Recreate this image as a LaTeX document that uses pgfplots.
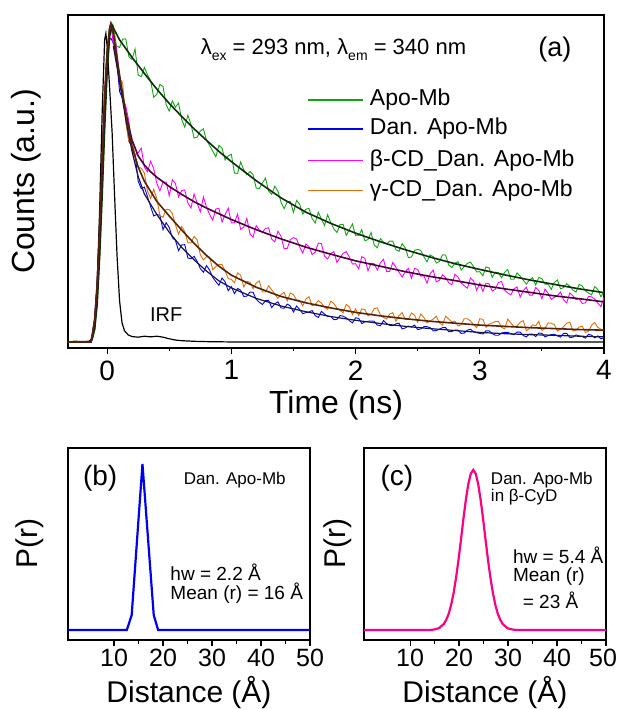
\documentclass[border=0pt]{standalone}
\usepackage{fontspec}
\setmainfont{Liberation Sans}
\usepackage{pgfplots}
\pgfplotsset{compat=1.18}
\definecolor{apogreen}{RGB}{20,165,20}
\definecolor{danblue}{RGB}{0,0,240}
\definecolor{betamag}{RGB}{255,0,255}
\definecolor{gamorange}{RGB}{225,110,10}
\definecolor{greenfit}{RGB}{15,45,15}
\definecolor{magfit}{RGB}{75,0,55}
\definecolor{orfit}{RGB}{85,35,10}
\definecolor{bluefit}{RGB}{25,20,70}
\definecolor{pinkc}{RGB}{250,0,130}
\newcommand\fs[1]{\fontsize{#1}{#1}\selectfont}
\newcommand\sub[1]{\raisebox{-6pt}{\fs{14}#1}}
\pgfplotsset{myax/.style={scale only axis, anchor=south west,
  axis line style={line width=1.4pt},
  tick style={line width=1.1pt, black},
  tick align=outside, xtick pos=left, ytick=\empty,
  major tick length=6pt, minor tick length=3.5pt,
  /pgf/number format/assume math mode=true,
  minor x tick num=1}}
\begin{document}
\begin{tikzpicture}
\useasboundingbox (0,0) rectangle (618pt,709pt);
% ---------------- panel (a)
\begin{axis}[myax, at={(68pt,361pt)}, width=536pt, height=333pt,
  xmin=-0.315, xmax=4, ymin=-0.019, ymax=1.028,
  xtick={0,1,2,3,4},
  ticklabel style={font=\fs{28}},
  xticklabel style={yshift=-3pt},
  xlabel={Time (ns)}, ylabel={Counts (a.u.)},
  label style={font=\fs{32}},
  xlabel style={at={(axis description cs:0.5,-0.171)}, anchor=center},
  ylabel style={at={(axis description cs:-0.078,0.5)}, anchor=center}]
% green data
\addplot[color=apogreen, line width=0.9pt] coordinates {
(-0.32,0)(-0.26,0.003)(-0.2,0.001)(-0.15,0.003)(-0.13,0.004)(-0.12,0.01)(-0.10,0.04)(-0.08,0.12)(-0.06,0.27)(-0.04,0.46)(-0.02,0.67)(0,0.85)(0.02,0.96)(0.04,1.0)
(0.05,0.995)(0.075,0.931)(0.10,0.926)(0.125,0.952)(0.15,0.953)(0.175,0.897)(0.20,0.888)(0.225,0.921)(0.25,0.839)(0.275,0.834)(0.30,0.863)(0.325,0.840)(0.35,0.822)(0.375,0.769)(0.40,0.779)(0.425,0.810)(0.45,0.803)(0.475,0.746)(0.50,0.726)(0.525,0.758)(0.55,0.738)(0.575,0.751)(0.60,0.700)(0.625,0.675)(0.65,0.713)(0.675,0.684)(0.70,0.641)(0.725,0.644)(0.75,0.663)(0.775,0.670)(0.80,0.634)(0.825,0.618)(0.85,0.600)(0.875,0.582)(0.90,0.618)(0.925,0.610)(0.95,0.572)(0.975,0.585)(1.00,0.590)(1.025,0.531)(1.05,0.530)(1.075,0.566)(1.10,0.541)(1.125,0.526)(1.15,0.536)(1.175,0.526)(1.20,0.484)(1.225,0.482)(1.25,0.500)(1.275,0.515)(1.30,0.474)(1.325,0.464)(1.35,0.490)(1.375,0.474)(1.40,0.439)(1.425,0.419)(1.45,0.441)(1.475,0.441)(1.50,0.407)(1.525,0.445)(1.55,0.433)(1.575,0.402)(1.60,0.417)(1.625,0.420)(1.65,0.388)(1.675,0.374)(1.70,0.408)(1.725,0.386)(1.75,0.366)(1.775,0.400)(1.80,0.375)(1.825,0.356)(1.85,0.344)(1.875,0.369)(1.90,0.370)(1.925,0.335)(1.95,0.353)(1.975,0.371)(2.00,0.334)(2.025,0.334)(2.05,0.353)(2.075,0.318)(2.10,0.322)(2.125,0.344)(2.15,0.305)(2.175,0.296)(2.20,0.325)(2.225,0.314)(2.25,0.308)(2.275,0.317)(2.30,0.317)(2.325,0.290)(2.35,0.285)(2.375,0.309)(2.40,0.296)(2.425,0.265)(2.45,0.267)(2.475,0.288)(2.50,0.291)(2.525,0.288)(2.55,0.268)(2.575,0.252)(2.60,0.274)(2.625,0.268)(2.65,0.248)(2.675,0.253)(2.70,0.274)(2.725,0.273)(2.75,0.242)(2.775,0.234)(2.80,0.248)(2.825,0.252)(2.85,0.226)(2.875,0.237)(2.90,0.247)(2.925,0.251)(2.95,0.237)(2.975,0.220)(3.00,0.221)(3.025,0.208)(3.05,0.236)(3.075,0.233)(3.10,0.203)(3.125,0.219)(3.15,0.218)(3.175,0.202)(3.20,0.219)(3.225,0.228)(3.25,0.197)(3.275,0.197)(3.30,0.217)(3.325,0.207)(3.35,0.194)(3.375,0.182)(3.40,0.195)(3.425,0.202)(3.45,0.179)(3.475,0.203)(3.50,0.199)(3.525,0.182)(3.55,0.182)(3.575,0.165)(3.60,0.187)(3.625,0.195)(3.65,0.167)(3.675,0.171)(3.70,0.183)(3.725,0.175)(3.75,0.163)(3.775,0.157)(3.80,0.181)(3.825,0.176)(3.85,0.161)(3.875,0.154)(3.90,0.148)(3.925,0.174)(3.95,0.165)(3.975,0.142)(4.00,0.159)};
% blue data
\addplot[color=danblue, line width=0.9pt] coordinates {
(-0.32,0)(-0.26,0.001)(-0.2,0.002)(-0.15,0.001)(-0.13,0.004)(-0.12,0.02)(-0.10,0.07)(-0.08,0.18)(-0.06,0.36)(-0.04,0.56)(-0.02,0.75)(0,0.89)(0.02,0.95)(0.03,0.955)
(0.05,0.94)(0.075,0.897)(0.10,0.788)(0.125,0.764)(0.15,0.706)(0.175,0.631)(0.20,0.614)(0.225,0.590)(0.25,0.505)(0.275,0.482)(0.30,0.487)(0.325,0.457)(0.35,0.426)(0.375,0.396)(0.40,0.401)(0.425,0.398)(0.45,0.353)(0.475,0.375)(0.50,0.360)(0.525,0.328)(0.55,0.319)(0.575,0.287)(0.60,0.305)(0.625,0.306)(0.65,0.264)(0.675,0.262)(0.70,0.269)(0.725,0.253)(0.75,0.231)(0.775,0.219)(0.80,0.240)(0.825,0.226)(0.85,0.203)(0.875,0.190)(0.90,0.178)(0.925,0.201)(0.95,0.189)(0.975,0.161)(1.00,0.174)(1.025,0.152)(1.05,0.168)(1.075,0.163)(1.10,0.143)(1.125,0.144)(1.15,0.157)(1.175,0.156)(1.20,0.134)(1.225,0.125)(1.25,0.118)(1.275,0.130)(1.30,0.131)(1.325,0.108)(1.35,0.120)(1.375,0.126)(1.40,0.107)(1.425,0.106)(1.45,0.119)(1.475,0.113)(1.50,0.094)(1.525,0.113)(1.55,0.102)(1.575,0.089)(1.60,0.092)(1.625,0.094)(1.65,0.099)(1.675,0.083)(1.70,0.077)(1.725,0.096)(1.75,0.088)(1.775,0.080)(1.80,0.080)(1.825,0.070)(1.85,0.071)(1.875,0.083)(1.90,0.081)(1.925,0.076)(1.95,0.067)(1.975,0.060)(2.00,0.076)(2.025,0.074)(2.05,0.058)(2.075,0.063)(2.10,0.065)(2.125,0.066)(2.15,0.065)(2.175,0.053)(2.20,0.051)(2.225,0.067)(2.25,0.058)(2.275,0.052)(2.30,0.051)(2.325,0.057)(2.35,0.059)(2.375,0.041)(2.40,0.044)(2.425,0.050)(2.45,0.047)(2.475,0.053)(2.50,0.039)(2.525,0.041)(2.55,0.048)(2.575,0.048)(2.60,0.045)(2.625,0.035)(2.65,0.036)(2.675,0.040)(2.70,0.045)(2.725,0.045)(2.75,0.032)(2.775,0.033)(2.80,0.037)(2.825,0.037)(2.85,0.027)(2.875,0.028)(2.90,0.037)(2.925,0.040)(2.95,0.032)(2.975,0.029)(3.00,0.027)(3.025,0.025)(3.05,0.035)(3.075,0.035)(3.10,0.026)(3.125,0.021)(3.15,0.021)(3.175,0.028)(3.20,0.030)(3.225,0.030)(3.25,0.026)(3.275,0.023)(3.30,0.031)(3.325,0.031)(3.35,0.020)(3.375,0.016)(3.40,0.025)(3.425,0.025)(3.45,0.017)(3.475,0.028)(3.50,0.027)(3.525,0.016)(3.55,0.020)(3.575,0.023)(3.60,0.024)(3.625,0.019)(3.65,0.015)(3.675,0.027)(3.70,0.027)(3.725,0.014)(3.75,0.015)(3.775,0.022)(3.80,0.019)(3.825,0.017)(3.85,0.012)(3.875,0.024)(3.90,0.021)(3.925,0.013)(3.95,0.019)(3.975,0.010)(4.00,0.013)};
% magenta data
\addplot[color=betamag, line width=0.9pt] coordinates {
(-0.32,0)(-0.26,0.002)(-0.2,0.001)(-0.15,0.002)(-0.13,0.004)(-0.12,0.02)(-0.10,0.07)(-0.08,0.18)(-0.06,0.36)(-0.04,0.57)(-0.02,0.77)(0,0.91)(0.02,0.985)(0.03,1.0)
(0.05,0.935)(0.075,0.928)(0.10,0.828)(0.125,0.766)(0.15,0.743)(0.175,0.694)(0.20,0.603)(0.225,0.587)(0.25,0.595)(0.275,0.609)(0.30,0.549)(0.325,0.535)(0.35,0.568)(0.375,0.545)(0.40,0.499)(0.425,0.475)(0.45,0.503)(0.475,0.503)(0.50,0.460)(0.525,0.510)(0.55,0.498)(0.575,0.456)(0.60,0.476)(0.625,0.478)(0.65,0.437)(0.675,0.421)(0.70,0.465)(0.725,0.436)(0.75,0.409)(0.775,0.456)(0.80,0.424)(0.825,0.401)(0.85,0.383)(0.875,0.418)(0.90,0.420)(0.925,0.377)(0.95,0.400)(0.975,0.421)(1.00,0.374)(1.025,0.375)(1.05,0.402)(1.075,0.354)(1.10,0.361)(1.125,0.389)(1.15,0.339)(1.175,0.330)(1.20,0.366)(1.225,0.352)(1.25,0.345)(1.275,0.357)(1.30,0.359)(1.325,0.323)(1.35,0.315)(1.375,0.348)(1.40,0.332)(1.425,0.293)(1.45,0.294)(1.475,0.322)(1.50,0.328)(1.525,0.324)(1.55,0.299)(1.575,0.279)(1.60,0.308)(1.625,0.300)(1.65,0.275)(1.675,0.282)(1.70,0.311)(1.725,0.309)(1.75,0.270)(1.775,0.261)(1.80,0.278)(1.825,0.284)(1.85,0.250)(1.875,0.265)(1.90,0.279)(1.925,0.284)(1.95,0.267)(1.975,0.245)(2.00,0.246)(2.025,0.230)(2.05,0.268)(2.075,0.263)(2.10,0.224)(2.125,0.247)(2.15,0.246)(2.175,0.226)(2.20,0.249)(2.225,0.260)(2.25,0.221)(2.275,0.222)(2.30,0.250)(2.325,0.235)(2.35,0.219)(2.375,0.204)(2.40,0.221)(2.425,0.231)(2.45,0.200)(2.475,0.231)(2.50,0.228)(2.525,0.207)(2.55,0.208)(2.575,0.185)(2.60,0.214)(2.625,0.226)(2.65,0.189)(2.675,0.194)(2.70,0.211)(2.725,0.202)(2.75,0.186)(2.775,0.180)(2.80,0.213)(2.825,0.204)(2.85,0.185)(2.875,0.177)(2.90,0.169)(2.925,0.201)(2.95,0.192)(2.975,0.162)(3.00,0.185)(3.025,0.159)(3.05,0.185)(3.075,0.183)(3.10,0.160)(3.125,0.166)(3.15,0.187)(3.175,0.190)(3.20,0.163)(3.225,0.154)(3.25,0.148)(3.275,0.167)(3.30,0.173)(3.325,0.141)(3.35,0.161)(3.375,0.172)(3.40,0.147)(3.425,0.147)(3.45,0.171)(3.475,0.162)(3.50,0.136)(3.525,0.166)(3.55,0.153)(3.575,0.134)(3.60,0.140)(3.625,0.146)(3.65,0.157)(3.675,0.132)(3.70,0.123)(3.725,0.154)(3.75,0.145)(3.775,0.133)(3.80,0.136)(3.825,0.121)(3.85,0.123)(3.875,0.143)(3.90,0.142)(3.925,0.135)(3.95,0.122)(3.975,0.111)(4.00,0.140)};
% orange data
\addplot[color=gamorange, line width=0.9pt] coordinates {
(-0.32,0)(-0.26,0.002)(-0.2,0.001)(-0.15,0.002)(-0.13,0.004)(-0.12,0.02)(-0.10,0.07)(-0.08,0.18)(-0.06,0.36)(-0.04,0.57)(-0.02,0.77)(0,0.91)(0.02,0.985)(0.03,1.0)
(0.05,0.99)(0.075,0.876)(0.10,0.828)(0.125,0.815)(0.15,0.690)(0.175,0.631)(0.20,0.633)(0.225,0.587)(0.25,0.550)(0.275,0.546)(0.30,0.531)(0.325,0.474)(0.35,0.451)(0.375,0.480)(0.40,0.451)(0.425,0.397)(0.45,0.392)(0.475,0.417)(0.50,0.416)(0.525,0.404)(0.55,0.368)(0.575,0.339)(0.60,0.363)(0.625,0.347)(0.65,0.312)(0.675,0.311)(0.70,0.332)(0.725,0.321)(0.75,0.274)(0.775,0.258)(0.80,0.268)(0.825,0.267)(0.85,0.227)(0.875,0.237)(0.90,0.244)(0.925,0.243)(0.95,0.223)(0.975,0.199)(1.00,0.197)(1.025,0.186)(1.05,0.217)(1.075,0.210)(1.10,0.173)(1.125,0.190)(1.15,0.188)(1.175,0.167)(1.20,0.185)(1.225,0.192)(1.25,0.157)(1.275,0.157)(1.30,0.177)(1.325,0.164)(1.35,0.150)(1.375,0.137)(1.40,0.149)(1.425,0.156)(1.45,0.129)(1.475,0.154)(1.50,0.149)(1.525,0.132)(1.55,0.131)(1.575,0.113)(1.60,0.135)(1.625,0.142)(1.65,0.114)(1.675,0.118)(1.70,0.130)(1.725,0.122)(1.75,0.109)(1.775,0.103)(1.80,0.128)(1.825,0.121)(1.85,0.106)(1.875,0.099)(1.90,0.092)(1.925,0.118)(1.95,0.110)(1.975,0.086)(2.00,0.104)(2.025,0.083)(2.05,0.104)(2.075,0.102)(2.10,0.082)(2.125,0.087)(2.15,0.105)(2.175,0.107)(2.20,0.085)(2.225,0.077)(2.25,0.072)(2.275,0.088)(2.30,0.092)(2.325,0.065)(2.35,0.083)(2.375,0.092)(2.40,0.071)(2.425,0.071)(2.45,0.091)(2.475,0.084)(2.50,0.062)(2.525,0.088)(2.55,0.077)(2.575,0.060)(2.60,0.066)(2.625,0.072)(2.65,0.081)(2.675,0.060)(2.70,0.053)(2.725,0.081)(2.75,0.072)(2.775,0.063)(2.80,0.065)(2.825,0.050)(2.85,0.054)(2.875,0.073)(2.90,0.073)(2.925,0.066)(2.95,0.054)(2.975,0.045)(3.00,0.073)(3.025,0.071)(3.05,0.046)(3.075,0.056)(3.10,0.060)(3.125,0.064)(3.15,0.065)(3.175,0.046)(3.20,0.041)(3.225,0.072)(3.25,0.059)(3.275,0.049)(3.30,0.050)(3.325,0.062)(3.35,0.067)(3.375,0.035)(3.40,0.042)(3.425,0.054)(3.45,0.051)(3.475,0.065)(3.50,0.036)(3.525,0.043)(3.55,0.060)(3.575,0.059)(3.60,0.054)(3.625,0.034)(3.65,0.040)(3.675,0.048)(3.70,0.059)(3.725,0.062)(3.75,0.035)(3.775,0.037)(3.80,0.047)(3.825,0.050)(3.85,0.030)(3.875,0.033)(3.90,0.053)(3.925,0.061)(3.95,0.046)(3.975,0.040)(4.00,0.037)};
% IRF
\addplot[black, line width=1.2pt] coordinates {
(-0.32,0)(-0.15,0)(-0.12,0.01)(-0.10,0.05)(-0.08,0.18)(-0.06,0.42)(-0.04,0.72)(-0.02,0.95)(-0.01,0.97)(0.0,0.93)(0.02,0.80)(0.04,0.66)(0.06,0.46)(0.08,0.27)(0.10,0.13)(0.12,0.06)(0.14,0.035)(0.17,0.022)(0.20,0.017)(0.25,0.015)(0.30,0.018)(0.35,0.016)(0.40,0.018)(0.45,0.015)(0.50,0.010)(0.55,0.006)(0.60,0.004)(0.70,0.002)(0.80,0.001)(1.0,0)(4.0,0)};
% fits
\addplot[greenfit, line width=1.6pt] coordinates {
(-0.32,0)(-0.13,0)(-0.12,0.01)(-0.10,0.04)(-0.08,0.12)(-0.06,0.27)(-0.04,0.46)(-0.02,0.67)(0,0.85)(0.02,0.96)(0.04,0.995)(0.06,0.98)(0.1,0.950)(0.2,0.895)(0.3,0.844)(0.4,0.795)(0.5,0.750)(0.6,0.709)(0.7,0.670)(0.8,0.634)(0.9,0.599)(1.0,0.567)(1.2,0.507)(1.4,0.453)(1.6,0.408)(1.8,0.373)(2.0,0.342)(2.2,0.315)(2.4,0.290)(2.6,0.267)(2.8,0.246)(3.0,0.228)(3.2,0.211)(3.4,0.195)(3.6,0.181)(3.8,0.167)(4.0,0.155)};
\addplot[magfit, line width=1.6pt] coordinates {
(-0.32,0)(-0.13,0)(-0.12,0.02)(-0.10,0.07)(-0.08,0.18)(-0.06,0.36)(-0.04,0.57)(-0.02,0.77)(0,0.91)(0.02,0.985)(0.03,1.0)(0.05,0.97)(0.1,0.82)(0.15,0.72)(0.2,0.635)(0.25,0.585)(0.3,0.556)(0.35,0.535)(0.4,0.518)(0.5,0.489)(0.6,0.464)(0.7,0.441)(0.8,0.421)(0.9,0.403)(1.0,0.385)(1.2,0.353)(1.4,0.324)(1.6,0.298)(1.8,0.276)(2.0,0.255)(2.2,0.238)(2.4,0.221)(2.6,0.206)(2.8,0.193)(3.0,0.179)(3.2,0.167)(3.4,0.156)(3.6,0.145)(3.8,0.136)(4.0,0.126)};
\addplot[bluefit, line width=1.2pt] coordinates {
(0.05,0.93)(0.1,0.82)(0.15,0.70)(0.2,0.60)(0.25,0.52)(0.3,0.465)(0.4,0.401)(0.5,0.345)(0.6,0.297)(0.7,0.258)(0.8,0.223)(0.9,0.192)(1.0,0.170)(1.2,0.137)(1.4,0.113)(1.6,0.095)(1.8,0.080)(2.0,0.068)(2.2,0.058)(2.4,0.049)(2.6,0.042)(2.8,0.036)(3.0,0.030)(3.2,0.026)(3.4,0.023)(3.6,0.021)(3.8,0.018)(4.0,0.016)};
\addplot[orfit, line width=1.6pt] coordinates {
(-0.32,0)(-0.13,0)(-0.12,0.02)(-0.10,0.07)(-0.08,0.18)(-0.06,0.36)(-0.04,0.57)(-0.02,0.77)(0,0.91)(0.02,0.985)(0.03,1.0)(0.05,0.97)(0.1,0.84)(0.15,0.72)(0.2,0.615)(0.25,0.55)(0.3,0.505)(0.4,0.442)(0.5,0.396)(0.6,0.352)(0.7,0.310)(0.8,0.272)(0.9,0.238)(1.0,0.210)(1.2,0.172)(1.4,0.143)(1.6,0.123)(1.8,0.107)(2.0,0.093)(2.2,0.082)(2.4,0.073)(2.6,0.065)(2.8,0.059)(3.0,0.053)(3.2,0.049)(3.4,0.045)(3.6,0.042)(3.8,0.039)(4.0,0.037)};
% legend (drawn by hand: sample line + text)
\draw[apogreen, line width=1.3pt] (axis description cs:0.448,0.745) -- (axis description cs:0.550,0.745);
\draw[danblue, line width=1.3pt] (axis description cs:0.448,0.658) -- (axis description cs:0.550,0.658);
\draw[betamag, line width=1.3pt] (axis description cs:0.448,0.564) -- (axis description cs:0.550,0.564);
\draw[gamorange, line width=1.3pt] (axis description cs:0.448,0.474) -- (axis description cs:0.550,0.474);
\node[font=\fs{23}, anchor=west, inner sep=0pt] at (axis description cs:0.563,0.745) {Apo-Mb};
\node[font=\fs{23}, anchor=west, inner sep=0pt] at (axis description cs:0.563,0.658) {Dan. Apo-Mb};
\node[font=\fs{23}, anchor=west, inner sep=0pt] at (axis description cs:0.563,0.564) {β-CD\_Dan. Apo-Mb};
\node[font=\fs{23}, anchor=west, inner sep=0pt] at (axis description cs:0.563,0.474) {γ-CD\_Dan. Apo-Mb};
\node[font=\fs{22}] at (axis cs:1.822,0.918) {λ\sub{ex} = 293 nm, λ\sub{em} = 340 nm};
\node[font=\fs{27}] at (axis cs:3.604,0.918) {(a)};
\node[font=\fs{20}] at (axis cs:0.475,0.085) {IRF};
\end{axis}
% ---------------- panel (b)
\begin{axis}[myax, at={(68pt,69pt)}, width=242pt, height=192pt,
  xmin=0.6, xmax=50, ymin=-0.06, ymax=1.096,
  xtick={10,20,30,40,50},
  ticklabel style={font=\fs{25}},
  xlabel={Distance (Å)}, ylabel={P(r)},
  label style={font=\fs{30}},
  xlabel style={at={(axis description cs:0.5,-0.276)}, anchor=center},
  ylabel style={at={(axis description cs:-0.157,0.505)}, anchor=center}]
\addplot[danblue, line width=2.2pt] coordinates {
(0.6,0)(12.6,0)(13.6,0.09)(15.8,1.0)(18.1,0.09)(19.0,0)(50,0)};
\node[font=\fs{28}] at (axis cs:7.16,0.916) {(b)};
\node[font=\fs{17}] at (axis cs:34.65,0.904) {Dan. Apo-Mb};
\node[font=\fs{19}, anchor=west] at (axis cs:20.8,0.349) {hw = 2.2 Å};
\node[font=\fs{19}, anchor=west] at (axis cs:20.8,0.223) {Mean (r) = 16 Å};
\end{axis}
% ---------------- panel (c)
\begin{axis}[myax, at={(364pt,69pt)}, width=242pt, height=192pt,
  xmin=0.6, xmax=50, ymin=-0.06, ymax=1.096,
  xtick={10,20,30,40,50},
  xticklabels={10,20,30,40,\hspace*{-6pt}50},
  ticklabel style={font=\fs{25}},
  xlabel={Distance (Å)}, ylabel={P(r)},
  label style={font=\fs{30}},
  xlabel style={at={(axis description cs:0.5,-0.276)}, anchor=center},
  ylabel style={at={(axis description cs:-0.107,0.505)}, anchor=center}]
\addplot[pinkc, line width=2.2pt] coordinates {
(0.6,0)(13.9,0)(14.9,0.003)(15.9,0.011)(16.9,0.037)(17.4,0.062)(17.9,0.099)(18.4,0.153)(18.9,0.225)(19.4,0.316)(19.9,0.425)(20.4,0.546)(20.9,0.671)(21.4,0.786)(21.9,0.880)(22.4,0.942)(22.9,0.964)(23.4,0.942)(23.9,0.880)(24.4,0.786)(24.9,0.671)(25.4,0.546)(25.9,0.425)(26.4,0.316)(26.9,0.225)(27.4,0.153)(27.9,0.099)(28.4,0.062)(28.9,0.037)(29.9,0.011)(30.9,0.003)(31.9,0)(50,0)};
\node[font=\fs{28}] at (axis cs:7.33,0.916) {(c)};
\node[font=\fs{17}, anchor=west] at (axis cs:25.8,0.904) {Dan. Apo-Mb};
\node[font=\fs{17}, anchor=west] at (axis cs:25.8,0.801) {in β-CyD};
\node[font=\fs{19}, anchor=west] at (axis cs:30.3,0.452) {hw = 5.4 Å};
\node[font=\fs{19}, anchor=west] at (axis cs:30.3,0.319) {Mean (r)};
\node[font=\fs{19}, anchor=west] at (axis cs:32.3,0.181) {= 23 Å};
\end{axis}
\end{tikzpicture}
\end{document}
